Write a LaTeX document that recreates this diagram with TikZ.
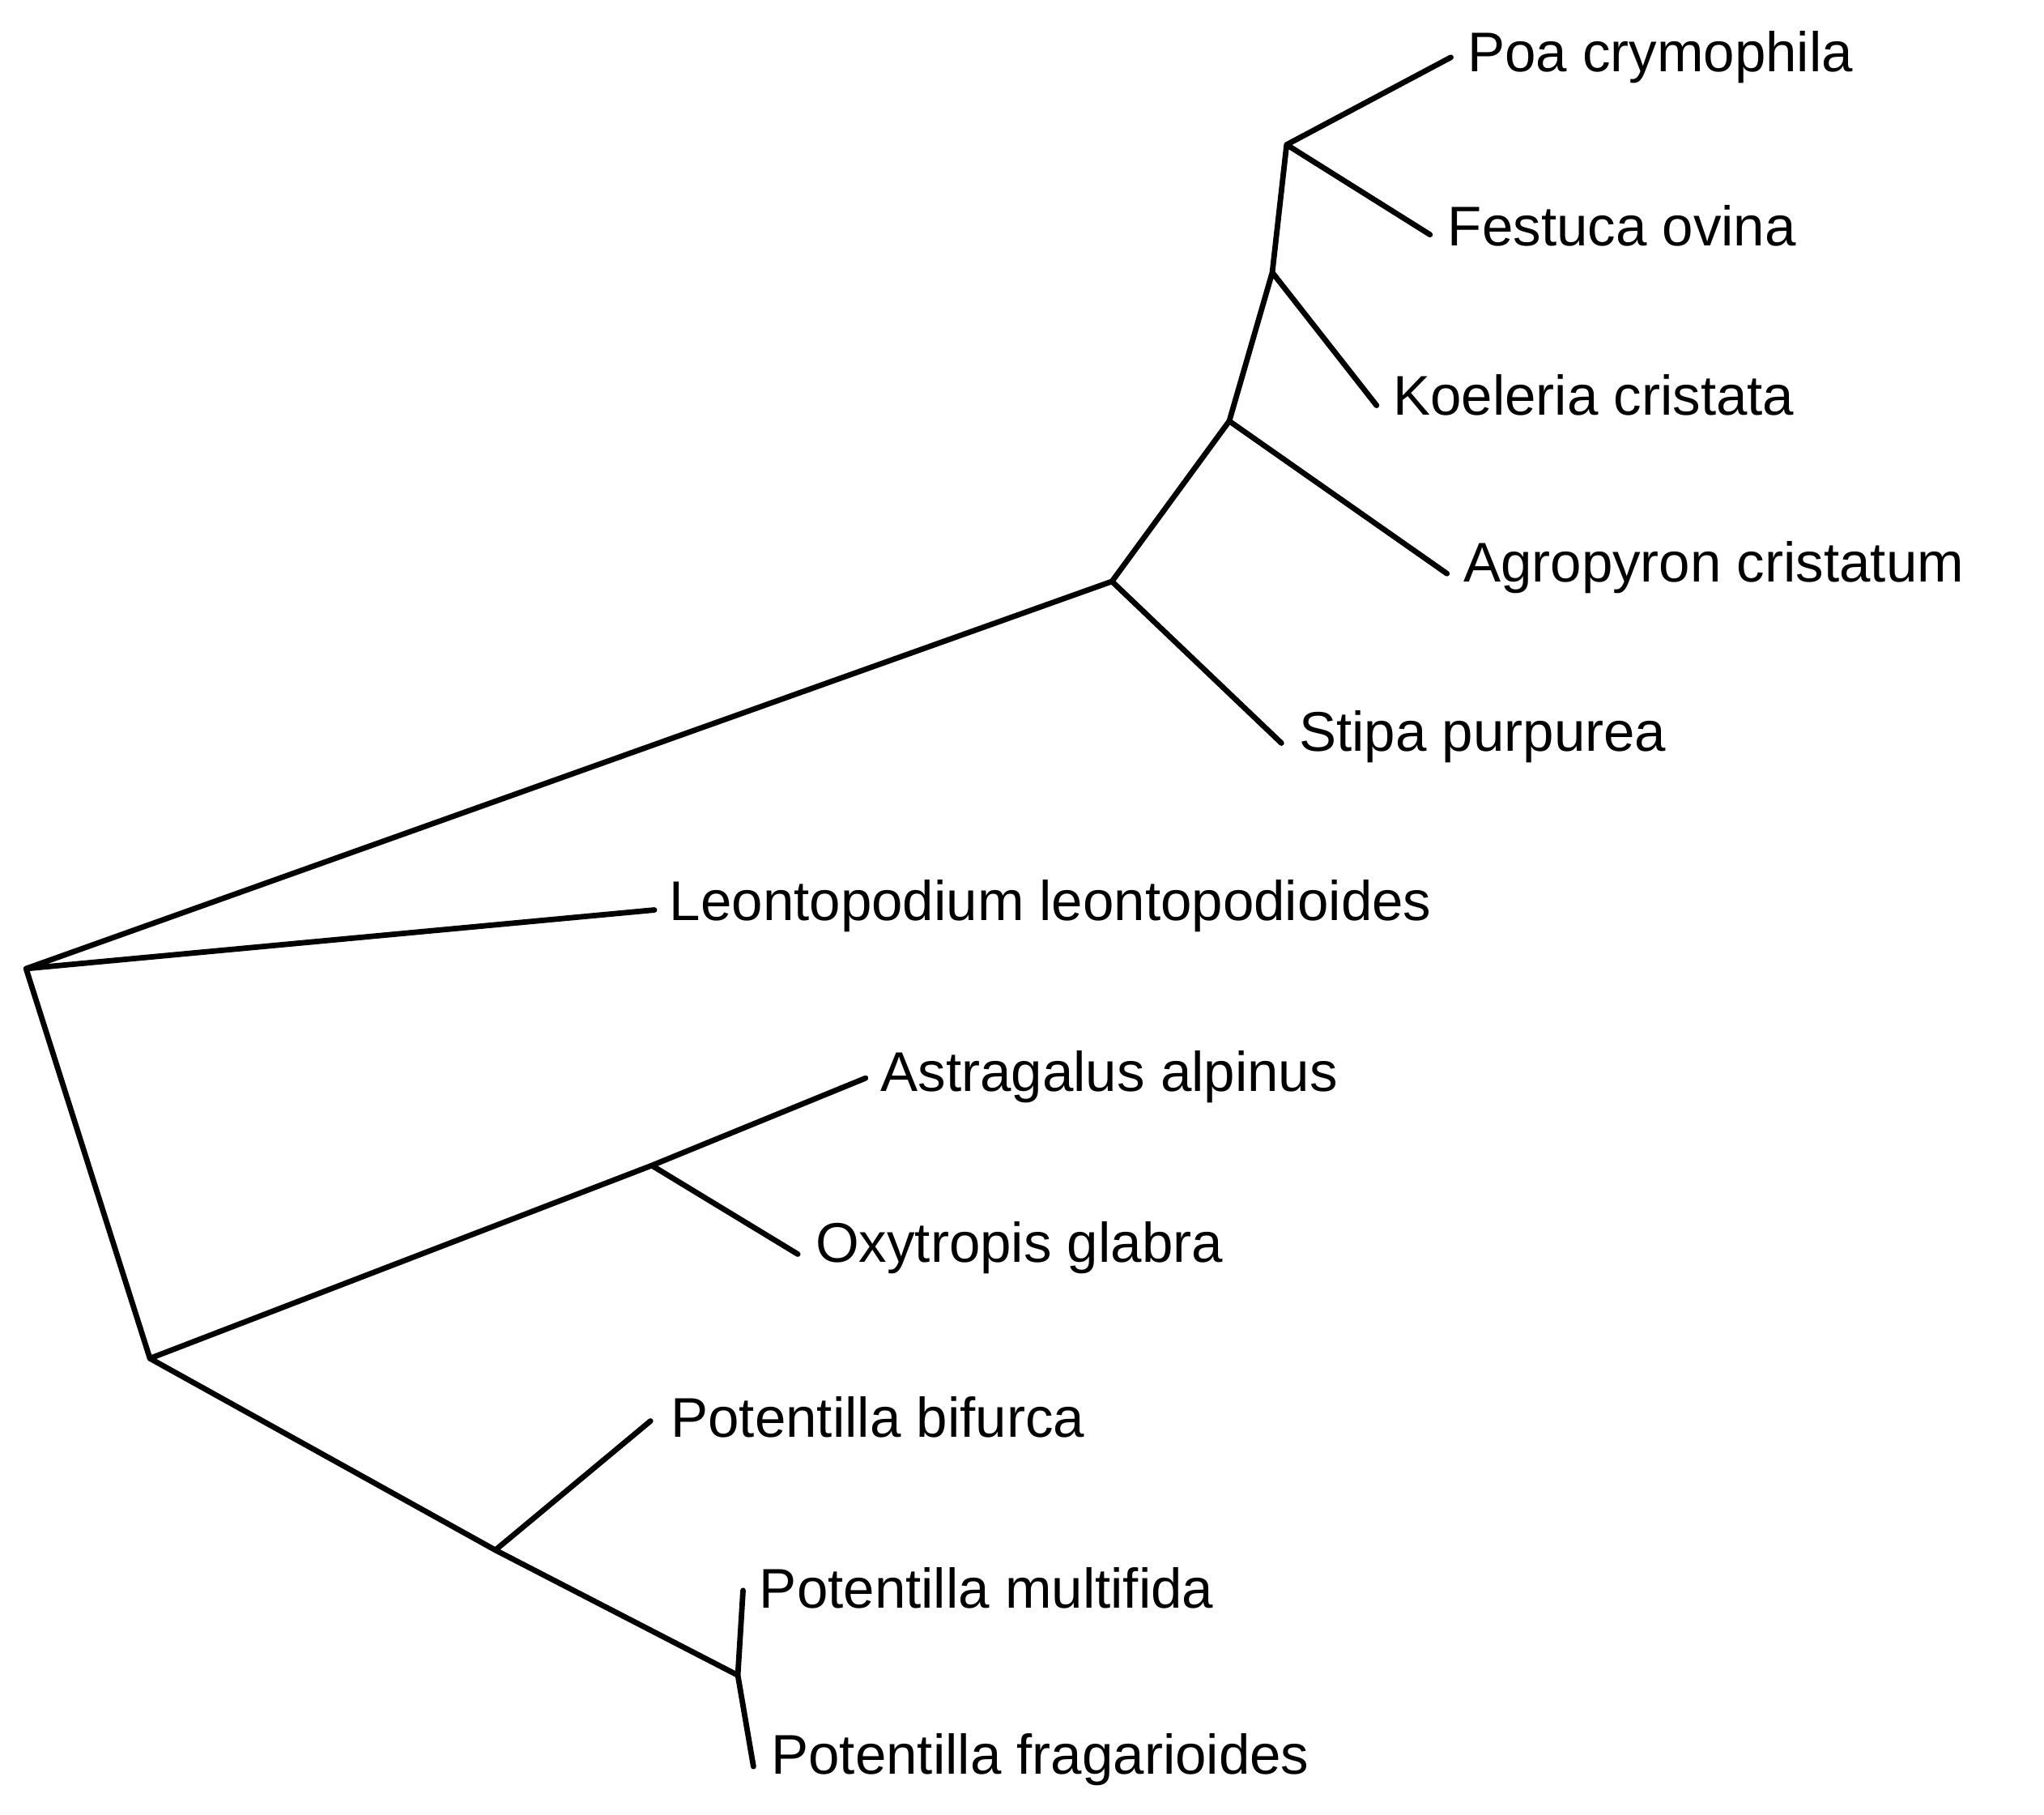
\documentclass[tikz,border=0pt]{standalone}
\usepackage{fontspec}
\setmainfont{Liberation Sans}
\begin{document}
\begin{tikzpicture}[x=0.01cm,y=-0.01cm,
  br/.style={line width=1.2pt,line cap=round,line join=round},
  lab/.style={anchor=west,inner sep=0pt,font=\fontsize{12.2pt}{14pt}\selectfont}]
\useasboundingbox (0,0) rectangle (1568,1392);
\coordinate (root) at (20,743);
\coordinate (A) at (853,446);
\coordinate (B) at (943,323);
\coordinate (C) at (976,209);
\coordinate (D) at (987,111);
\coordinate (E) at (115,1042);
\coordinate (F) at (500,894);
\coordinate (G) at (380,1189);
\coordinate (H) at (566,1285);
\coordinate (poa) at (1113,44);
\coordinate (fes) at (1097,180);
\coordinate (koe) at (1056,311);
\coordinate (agr) at (1110,440);
\coordinate (sti) at (983,570);
\coordinate (leo) at (502,698);
\coordinate (ast) at (664,827);
\coordinate (oxy) at (612,962);
\coordinate (pbi) at (499,1090);
\coordinate (pmu) at (570,1220);
\coordinate (pfr) at (578,1355);
\draw[br] (root)--(A) (root)--(leo) (root)--(E);
\draw[br] (A)--(B) (A)--(sti) (B)--(C) (B)--(agr) (C)--(D) (C)--(koe) (D)--(poa) (D)--(fes);
\draw[br] (E)--(F) (E)--(G) (F)--(ast) (F)--(oxy) (G)--(pbi) (G)--(H) (H)--(pmu) (H)--(pfr);
\node[lab] (tpoa) at (1125,44) {Poa crymophila};
\node[lab] (tfes) at (1110,173) {Festuca ovina};
\node[lab] (tkoe) at (1068,303) {Koeleria cristata};
\node[lab] (tagr) at (1122,435) {Agropyron cristatum};
\node[lab] (tsti) at (996,565) {Stipa purpurea};
\node[lab] (tleo) at (513,695) {Leontopodium leontopodioides};
\node[lab] (tast) at (675,826) {Astragalus alpinus};
\node[lab] (toxy) at (625,957) {Oxytropis glabra};
\node[lab] (tpbi) at (514,1087) {Potentilla bifurca};
\node[lab] (tpmu) at (582,1218) {Potentilla multifida};
\node[lab] (tpfr) at (591,1350) {Potentilla fragarioides};
\end{tikzpicture}
\end{document}
